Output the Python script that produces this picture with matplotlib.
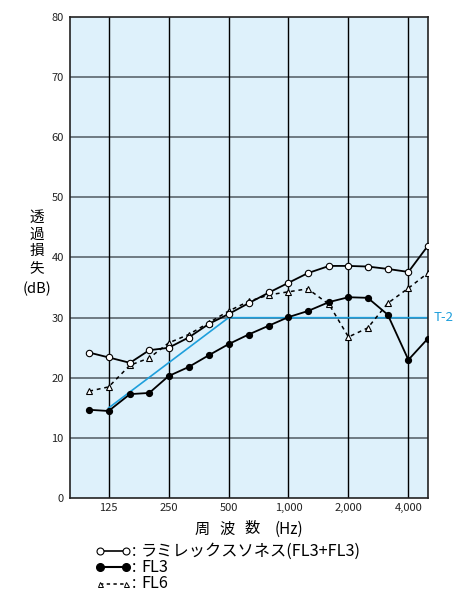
import matplotlib
matplotlib.use("Agg")
import matplotlib.pyplot as plt
from matplotlib.lines import Line2D

plt.rcParams['font.family'] = ['Noto Sans CJK JP', 'DejaVu Sans']

# 1/3-octave band centre frequencies (Hz)
freqs = [100, 125, 160, 200, 250, 315, 400, 500, 630, 800, 1000, 1250,
         1600, 2000, 2500, 3150, 4000, 5000]

# Sound transmission loss (dB)
laminex = [24.2, 23.4, 22.5, 24.6, 25.0, 26.7, 29.0, 30.6, 32.4, 34.2, 35.8,
           37.4, 38.6, 38.6, 38.5, 38.1, 37.6, 41.9]
fl3 = [14.7, 14.5, 17.3, 17.5, 20.3, 21.8, 23.8, 25.6, 27.2, 28.7, 30.1,
       31.1, 32.6, 33.4, 33.3, 30.5, 23.0, 26.5]
fl6 = [17.8, 18.5, 22.1, 23.3, 25.8, 27.2, 29.2, 31.1, 32.7, 33.8, 34.3,
       34.8, 32.2, 26.8, 28.3, 32.4, 34.9, 37.4]

# T-2 grade reference curve
t2_freqs = [125, 500, 5000]
t2_values = [15, 30, 30]

tick_freqs = [125, 250, 500, 1000, 2000, 4000]
tick_labels = ["125", "250", "500", "1,000", "2,000", "4,000"]
y_ticks = [0, 10, 20, 30, 40, 50, 60, 70, 80]

blue = '#1e9fdc'
W, H = 459, 591

fig = plt.figure(figsize=(4.59, 5.91), dpi=100)
ax = fig.add_axes([0.1525, 0.1569, 0.7793, 0.8148])
ax.set_facecolor('#def1fb')
ax.set_xscale('log')
ax.set_xlim(80, 5000)
ax.set_ylim(0, 80)

for y in y_ticks[1:-1]:
    ax.axhline(y, color='#505a62', lw=1.1, zorder=1)
for f in tick_freqs:
    ax.axvline(f, color='black', lw=1.0, zorder=1)

ax.set_xticks(tick_freqs)
ax.set_xticklabels(tick_labels)
ax.xaxis.set_minor_locator(matplotlib.ticker.NullLocator())
ax.set_yticks(y_ticks)
ax.tick_params(axis='both', length=0, labelsize=8, colors='#222222')
ax.tick_params(axis='x', pad=3.5)
ax.tick_params(axis='y', pad=4.5)
for s in ax.spines.values():
    s.set_color('#222222')
    s.set_linewidth(1.2)

ax.plot(t2_freqs, t2_values, color=blue, lw=1.2, zorder=2)
ax.text(1.015, 30, 'T-2', transform=ax.get_yaxis_transform(), color=blue,
        fontsize=9.5, va='center', ha='left')

ax.plot(freqs, fl6, ls=(0, (2.5, 2.5)), color='black', lw=1.1, marker='^',
        ms=4.2, mfc='white', mec='black', mew=0.8, zorder=3)
ax.plot(freqs, fl3, ls='-', color='black', lw=1.3, marker='o',
        ms=4.2, mfc='black', mec='black', zorder=4)
ax.plot(freqs, laminex, ls='-', color='black', lw=1.3, marker='o',
        ms=4.6, mfc='white', mec='black', mew=0.8, zorder=5)

# x-axis title, characters spaced apart
for xpix, s in [(202.5, '周'), (227.5, '波'), (252.5, '数'), (289, '(Hz)')]:
    fig.text(xpix / W, 1 - 529 / H, s, ha='center', va='center', fontsize=11)

# vertical y-axis title
for ypix, s in [(218, '透'), (235, '過'), (251, '損'), (268, '失'), (289, '(dB)')]:
    fig.text(37 / W, 1 - ypix / H, s, ha='center', va='center', fontsize=10.5)

# Legend drawn as marker samples followed by labels
rows = [
    (551, dict(ls='-', lw=1.2, marker='o', ms=5, mfc='white', mec='black', mew=0.8),
     'ラミレックスソネス(FL3+FL3)'),
    (567, dict(ls='-', lw=1.5, marker='o', ms=5.5, mfc='black', mec='black'),
     'FL3'),
    (584, dict(ls=(0, (2.2, 2.2)), lw=1.1, marker='^', ms=3.6, mfc='white',
               mec='black', mew=0.7), 'FL6'),
]
for ypix, style, label in rows:
    yf = 1 - ypix / H
    fig.add_artist(Line2D([100 / W, 126 / W], [yf, yf], color='black',
                          transform=fig.transFigure, **style))
    fig.text(132 / W, yf, ':', ha='left', va='center', fontsize=11.5)
    fig.text(141 / W, yf, label, ha='left', va='center', fontsize=11.7)

fig.savefig('out.png', dpi=100)
